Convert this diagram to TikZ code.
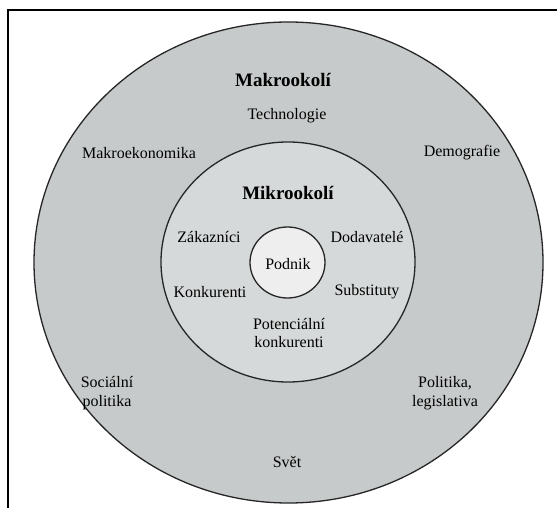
\documentclass[tikz,border=0pt]{standalone}
\usepackage{fontspec}
\setmainfont{Liberation Serif}
\usetikzlibrary{shapes.geometric}
\definecolor{outerc}{RGB}{199,202,202}
\definecolor{midc}{RGB}{214,217,217}
\definecolor{innerc}{RGB}{238,238,238}
\begin{document}
\begin{tikzpicture}[x=1pt,y=-1pt,
  ring/.style={draw=black!85,line width=1.3pt},
  lbl/.style={font=\fontsize{16}{16.5}\selectfont,inner sep=0pt,align=center},
  ttl/.style={font=\fontsize{19}{20}\selectfont\bfseries,inner sep=0pt}]
\useasboundingbox (0,0) rectangle (558,508);
\fill[white] (0,0) rectangle (558,508);
\draw[line width=2pt] (8,508) -- (8,10) -- (557,10);
% rings
\filldraw[ring,fill=outerc] (288.5,262.5) ellipse [x radius=254.5,y radius=240.5];
\filldraw[ring,fill=midc] (288,262) ellipse [x radius=127,y radius=120];
\filldraw[ring,fill=innerc] (287.5,262.5) ellipse [x radius=37.5,y radius=35.5];
% macro
\node[ttl] (makro) at (283,80) {Makrookolí};
\node[lbl] (tech) at (287,116) {Technologie};
\node[lbl] (makroek) at (139,153) {Makroekonomika};
\node[lbl] (demo) at (462,153) {Demografie};
\node[lbl] (soc) at (107,393) {Sociální\\[2pt]politika};
\node[lbl] (pol) at (445,393) {Politika,\\[2pt]legislativa};
\node[lbl] (svet) at (287,462) {Svět};
% micro
\node[ttl] (mikro) at (288,193) {Mikrookolí};
\node[lbl] (zak) at (209,237) {Zákazníci};
\node[lbl] (dod) at (367,237) {Dodavatelé};
\node[lbl] (kon) at (210,292) {Konkurenti};
\node[lbl] (sub) at (367,292) {Substituty};
\node[lbl] (pot) at (289,333) {Potenciální\\[2pt]konkurenti};
\node[lbl] (podnik) at (288,264) {Podnik};
\end{tikzpicture}
\end{document}
